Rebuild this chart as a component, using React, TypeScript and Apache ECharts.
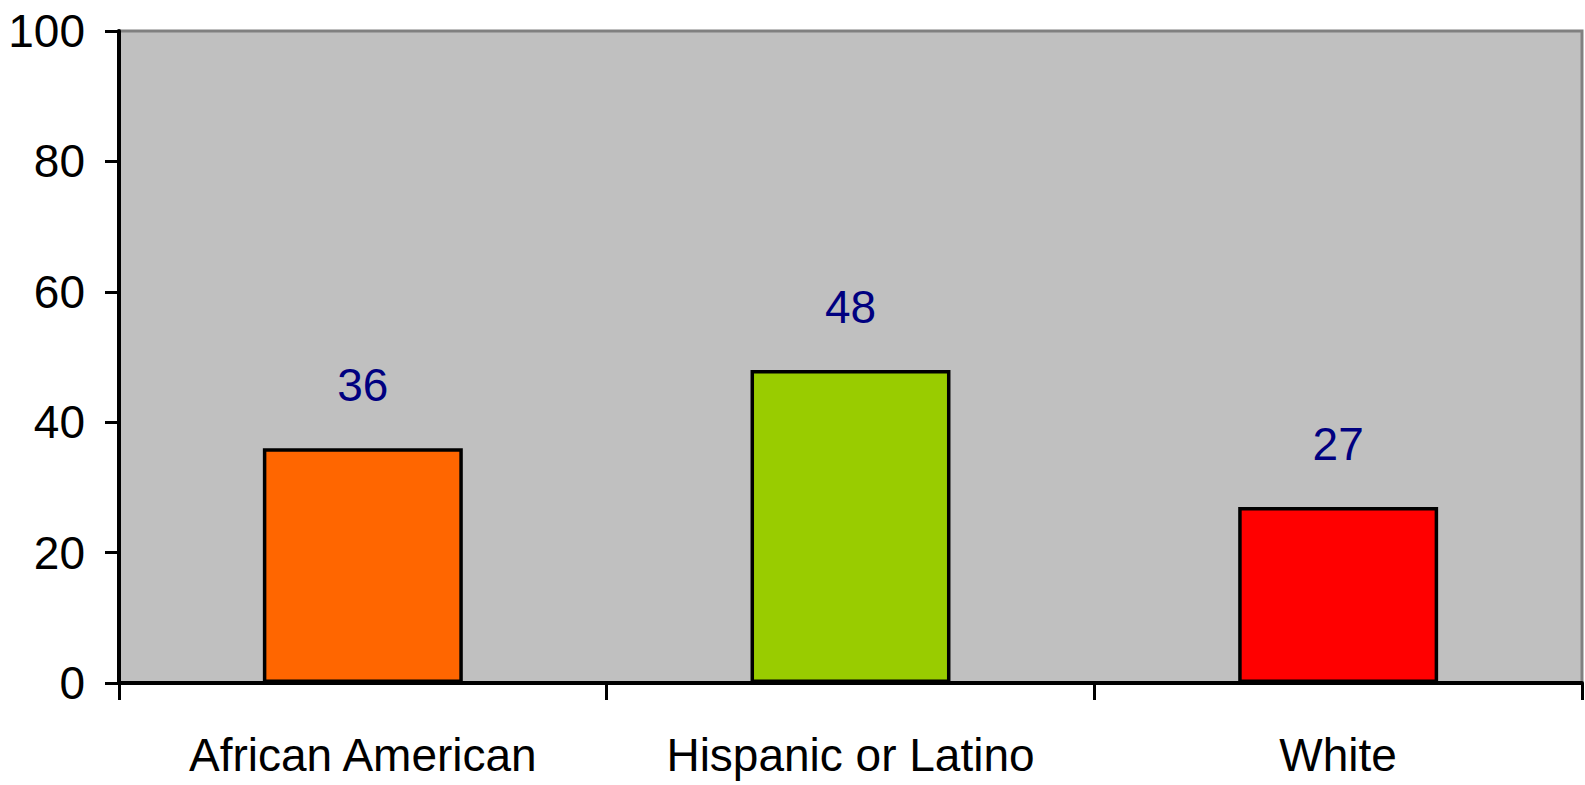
import React, { useEffect, useRef } from "react";
import * as echarts from "echarts";

const categories = ["African American", "Hispanic or Latino", "White"];
const values = [36, 48, 27];
const barColors = ["#FF6600", "#99CC00", "#FF0000"];
const yTicks = { min: 0, max: 100, interval: 20 };

export default function App() {
  const ref = useRef<HTMLDivElement>(null);
  useEffect(() => {
    if (!ref.current) return;
    const chart = echarts.init(ref.current, null, { renderer: "svg" });
    const font = "'Liberation Sans', Arial, sans-serif";
    chart.setOption({
      animation: false,
      grid: {
        left: 119,
        top: 31,
        right: 3,
        bottom: 102,
        show: true,
        backgroundColor: "#C0C0C0",
        borderColor: "#808080",
        borderWidth: 3,
      },
      xAxis: {
        type: "category",
        data: categories,
        axisLine: { lineStyle: { color: "#000", width: 4 } },
        axisTick: { show: true, interval: 0, length: 17, lineStyle: { color: "#000", width: 3 } },
        axisLabel: { color: "#000", fontSize: 46, fontFamily: font, margin: 49, interval: 0, hideOverlap: false },
        splitLine: { show: false },
      },
      yAxis: {
        type: "value",
        min: yTicks.min,
        max: yTicks.max,
        interval: yTicks.interval,
        axisLine: { show: true, lineStyle: { color: "#000", width: 4 } },
        axisTick: { show: true, length: 14, lineStyle: { color: "#000", width: 3 } },
        axisLabel: { color: "#000", fontSize: 46, fontFamily: font, margin: 34 },
        splitLine: { show: false },
      },
      series: [
        {
          type: "bar",
          barCategoryGap: "59%",
          data: values.map((v, i) => ({
            value: v,
            itemStyle: { color: barColors[i], borderColor: "#000", borderWidth: 3.5 },
          })),
          label: {
            show: true,
            position: "top",
            distance: 40,
            color: "#000080",
            fontSize: 46,
            fontFamily: font,
          },
        },
      ],
    });
    return () => chart.dispose();
  }, []);
  return <div ref={ref} style={{ width: 1585, height: 785, position: "absolute", left: 0, top: 0 }} />;
}
